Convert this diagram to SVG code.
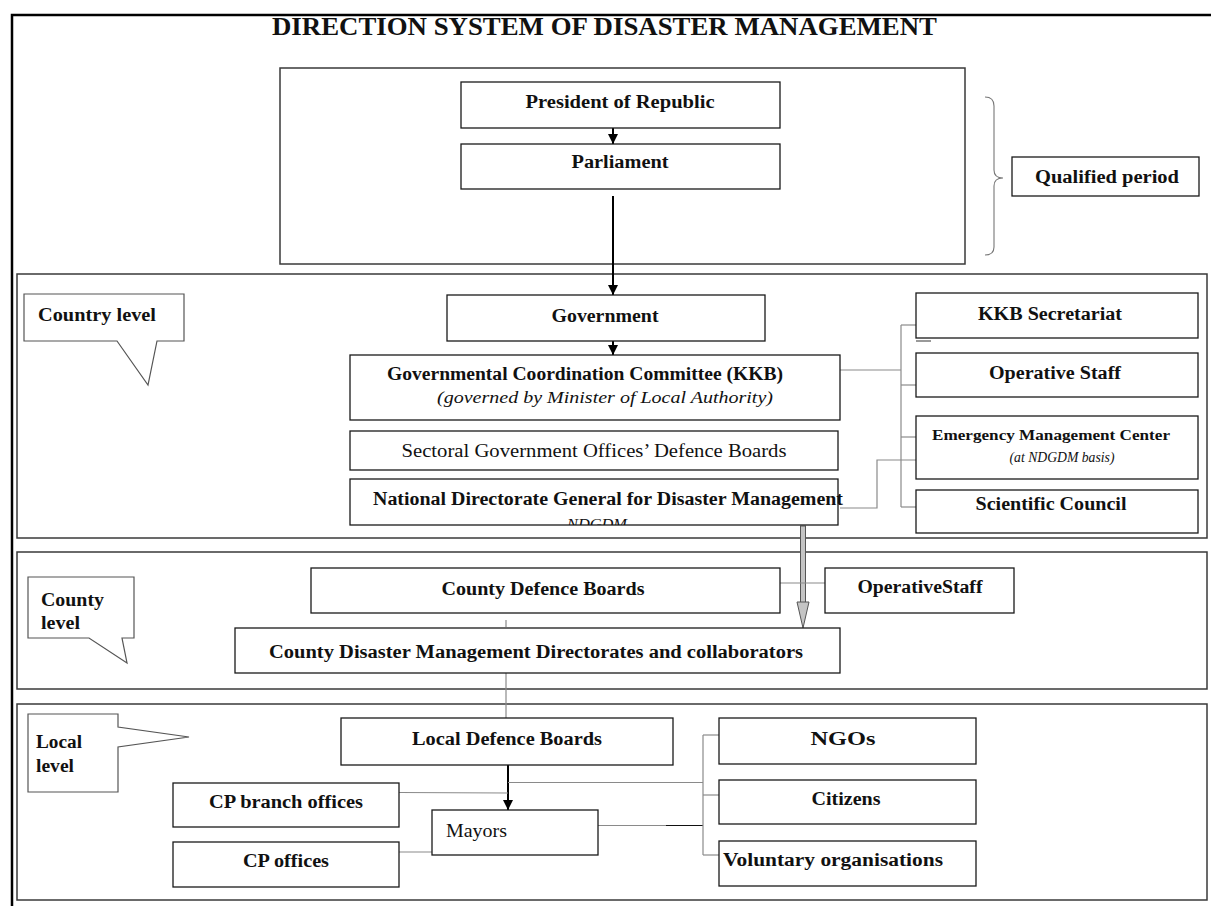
<svg xmlns="http://www.w3.org/2000/svg" width="1211" height="906" viewBox="0 0 1211 906">
  <defs>
    <style>
      .frame { fill: none; stroke: #000; stroke-width: 2.5; }
      .sec { fill: none; stroke: #3a3a3a; stroke-width: 1.5; }
      .box { fill: #fff; stroke: #1a1a1a; stroke-width: 1.3; }
      .call { fill: #fff; stroke: #555; stroke-width: 1.2; }
      .link { fill: none; stroke: #8a8a8a; stroke-width: 1.2; }
      .dark { fill: none; stroke: #111; stroke-width: 1.2; }
      .arrow { fill: none; stroke: #000; stroke-width: 2; marker-end: url(#head); }
      .brace { fill: none; stroke: #777; stroke-width: 1.1; }
      text { font-family: "Liberation Serif", "Times New Roman", serif; fill: #111; }
      .t { font-size: 25px; font-weight: bold; }
      .b { font-size: 18px; font-weight: bold; text-anchor: middle; }
      .bs { font-size: 15px; font-weight: bold; text-anchor: middle; }
      .r { font-size: 18px; text-anchor: middle; }
      .i { font-size: 17px; font-style: italic; text-anchor: middle; }
      .is { font-size: 15px; font-style: italic; text-anchor: middle; }
      .lb { font-size: 18px; font-weight: bold; }
    </style>
    <marker id="head" viewBox="0 0 10 10" refX="10" refY="5" markerWidth="5" markerHeight="5" orient="auto" markerUnits="strokeWidth">
      <path d="M0,0 L10,5 L0,10 Z" fill="#000"/>
    </marker>
    <clipPath id="ndgdmClip">
      <rect x="350" y="479" width="488" height="46"/>
    </clipPath>
  </defs>

  <!-- outer frame (top and left edges) -->
  <path class="frame" d="M12,906 L12,15 L1211,15"/>

  <!-- title -->
  <text class="t" x="272" y="35" textLength="665" lengthAdjust="spacingAndGlyphs">DIRECTION SYSTEM OF DISASTER MANAGEMENT</text>

  <!-- level sections -->
  <g id="sections">
    <rect class="sec" x="280" y="68" width="685" height="196"/>
    <rect class="sec" x="17" y="274" width="1190" height="264"/>
    <rect class="sec" x="17" y="552" width="1190" height="137"/>
    <rect class="sec" x="17" y="704" width="1190" height="196"/>
  </g>

  <!-- level callouts -->
  <g id="callout-country">
    <path class="call" d="M24,294 H184 V341 H157 L148,385 L117,341 H24 Z"/>
    <text class="lb" x="38" y="321" textLength="118" lengthAdjust="spacingAndGlyphs">Country level</text>
  </g>
  <g id="callout-county">
    <path class="call" d="M28,577 H134 V638 H122 L127,663 L89,638 H28 Z"/>
    <text class="lb" x="41" y="606" textLength="63" lengthAdjust="spacingAndGlyphs">County</text>
    <text class="lb" x="41" y="629" textLength="39" lengthAdjust="spacingAndGlyphs">level</text>
  </g>
  <g id="callout-local">
    <path class="call" d="M28,714 H118 V727 L189,737 L118,747 V792 H28 Z"/>
    <text class="lb" x="36" y="748" textLength="46" lengthAdjust="spacingAndGlyphs">Local</text>
    <text class="lb" x="36" y="772" textLength="38" lengthAdjust="spacingAndGlyphs">level</text>
  </g>

  <!-- brace for the qualified period -->
  <path class="brace" d="M985,97 Q994,97 994,106 L994,170 Q994,178 1003,178 Q994,178 994,186 L994,247 Q994,255 985,255"/>

  <!-- connectors -->
  <g id="connectors">
    <line class="arrow" x1="613" y1="128" x2="613" y2="144"/>
    <line class="arrow" x1="613" y1="196" x2="613" y2="295"/>
    <line class="arrow" x1="613" y1="341" x2="613" y2="355"/>

    <!-- KKB to its supporting bodies -->
    <line class="link" x1="840" y1="370" x2="901" y2="370"/>
    <line class="link" x1="901" y1="325" x2="901" y2="507"/>
    <line class="link" x1="901" y1="325" x2="916" y2="325"/>
    <line class="link" x1="901" y1="385" x2="916" y2="385"/>
    <line class="link" x1="901" y1="437" x2="916" y2="437"/>
    <line class="link" x1="901" y1="507" x2="916" y2="507"/>
    <line x1="916" y1="341" x2="931" y2="341" stroke="#999" stroke-width="2"/>
    <polyline class="link" points="840,508 877,508 877,460 916,460"/>

    <!-- NDGDM down to county directorates -->
    <rect x="800.5" y="526" width="5" height="77" fill="#c4c4c4" stroke="#555" stroke-width="1"/>
    <path d="M797,602 L809,602 L803,628 Z" fill="#c4c4c4" stroke="#555" stroke-width="1"/>

    <!-- county level -->
    <line class="link" x1="780" y1="583" x2="825" y2="583"/>
    <line class="link" x1="506" y1="620" x2="506" y2="627"/>
    <line class="link" x1="506" y1="673" x2="506" y2="718"/>

    <!-- local level -->
    <line class="arrow" x1="508" y1="765" x2="508" y2="810"/>
    <line class="link" x1="508" y1="782.5" x2="703" y2="782.5"/>
    <line class="link" x1="399" y1="792.5" x2="508" y2="793"/>
    <line class="link" x1="598" y1="825.5" x2="666" y2="825.5"/>
    <line class="dark" x1="666" y1="825.5" x2="703" y2="825.5"/>
    <line class="link" x1="399" y1="852" x2="432" y2="852"/>
    <line class="link" x1="703" y1="735" x2="703" y2="855"/>
    <line class="link" x1="703" y1="735" x2="719" y2="735"/>
    <line class="link" x1="703" y1="795" x2="719" y2="795"/>
    <line class="link" x1="703" y1="855" x2="719" y2="855"/>
  </g>

  <!-- top level -->
  <g id="president">
    <rect class="box" x="461" y="82" width="319" height="46"/>
    <text class="b" x="620" y="108" textLength="189" lengthAdjust="spacingAndGlyphs">President of Republic</text>
  </g>
  <g id="parliament">
    <rect class="box" x="461" y="144" width="319" height="45"/>
    <text class="b" x="620" y="168" textLength="97" lengthAdjust="spacingAndGlyphs">Parliament</text>
  </g>
  <g id="qualified-period">
    <rect class="box" x="1012" y="157" width="187" height="39"/>
    <text class="b" x="1107" y="183" textLength="144" lengthAdjust="spacingAndGlyphs">Qualified period</text>
  </g>

  <!-- country level -->
  <g id="government">
    <rect class="box" x="447" y="295" width="318" height="46"/>
    <text class="b" x="605" y="322" textLength="107" lengthAdjust="spacingAndGlyphs">Government</text>
  </g>
  <g id="kkb">
    <rect class="box" x="350" y="355" width="490" height="65"/>
    <text class="b" x="585" y="380" textLength="396" lengthAdjust="spacingAndGlyphs">Governmental Coordination Committee (KKB)</text>
    <text class="i" x="605" y="403" textLength="336" lengthAdjust="spacingAndGlyphs">(governed by Minister of Local Authority)</text>
  </g>
  <g id="sectoral-boards">
    <rect class="box" x="350" y="431" width="488" height="39"/>
    <text class="r" x="594" y="457" textLength="385" lengthAdjust="spacingAndGlyphs">Sectoral Government Offices’ Defence Boards</text>
  </g>
  <g id="ndgdm">
    <rect class="box" x="350" y="479" width="488" height="46"/>
    <text class="b" x="608" y="505" textLength="470" lengthAdjust="spacingAndGlyphs">National Directorate General for Disaster Management</text>
    <text class="is" x="597" y="529" textLength="60" lengthAdjust="spacingAndGlyphs" clip-path="url(#ndgdmClip)">NDGDM</text>
  </g>
  <g id="kkb-secretariat">
    <rect class="box" x="916" y="293" width="282" height="45"/>
    <text class="b" x="1050" y="320" textLength="144" lengthAdjust="spacingAndGlyphs">KKB Secretariat</text>
  </g>
  <g id="operative-staff">
    <rect class="box" x="916" y="353" width="282" height="44"/>
    <text class="b" x="1055" y="379" textLength="132" lengthAdjust="spacingAndGlyphs">Operative Staff</text>
  </g>
  <g id="emergency-center">
    <rect class="box" x="916" y="416" width="282" height="63"/>
    <text class="bs" x="1051" y="440" textLength="238" lengthAdjust="spacingAndGlyphs">Emergency Management Center</text>
    <text class="is" x="1062" y="462" textLength="105" lengthAdjust="spacingAndGlyphs">(at NDGDM basis)</text>
  </g>
  <g id="scientific-council">
    <rect class="box" x="916" y="490" width="282" height="43"/>
    <text class="b" x="1051" y="510" textLength="151" lengthAdjust="spacingAndGlyphs">Scientific Council</text>
  </g>

  <!-- county level -->
  <g id="county-defence-boards">
    <rect class="box" x="311" y="568" width="469" height="45"/>
    <text class="b" x="543" y="595" textLength="203" lengthAdjust="spacingAndGlyphs">County Defence Boards</text>
  </g>
  <g id="county-operative-staff">
    <rect class="box" x="825" y="568" width="189" height="45"/>
    <text class="b" x="920" y="593" textLength="125" lengthAdjust="spacingAndGlyphs">OperativeStaff</text>
  </g>
  <g id="county-directorates">
    <rect class="box" x="235" y="628" width="605" height="45"/>
    <text class="b" x="536" y="658" textLength="534" lengthAdjust="spacingAndGlyphs">County Disaster Management Directorates and collaborators</text>
  </g>

  <!-- local level -->
  <g id="local-defence-boards">
    <rect class="box" x="341" y="718" width="332" height="47"/>
    <text class="b" x="507" y="745" textLength="190" lengthAdjust="spacingAndGlyphs">Local Defence Boards</text>
  </g>
  <g id="cp-branch-offices">
    <rect class="box" x="173" y="783" width="226" height="44"/>
    <text class="b" x="286" y="808" textLength="154" lengthAdjust="spacingAndGlyphs">CP branch offices</text>
  </g>
  <g id="mayors">
    <rect class="box" x="432" y="810" width="166" height="45"/>
    <text class="r" x="476.5" y="837" textLength="61" lengthAdjust="spacingAndGlyphs">Mayors</text>
  </g>
  <g id="cp-offices">
    <rect class="box" x="173" y="842" width="226" height="45"/>
    <text class="b" x="286" y="867" textLength="86" lengthAdjust="spacingAndGlyphs">CP offices</text>
  </g>
  <g id="ngos">
    <rect class="box" x="719" y="718" width="257" height="46"/>
    <text class="b" x="843" y="745" textLength="65" lengthAdjust="spacingAndGlyphs">NGOs</text>
  </g>
  <g id="citizens">
    <rect class="box" x="719" y="780" width="257" height="44"/>
    <text class="b" x="846" y="805" textLength="69" lengthAdjust="spacingAndGlyphs">Citizens</text>
  </g>
  <g id="voluntary-organisations">
    <rect class="box" x="719" y="841" width="257" height="45"/>
    <text class="b" x="833" y="866" textLength="220" lengthAdjust="spacingAndGlyphs">Voluntary organisations</text>
  </g>
</svg>
